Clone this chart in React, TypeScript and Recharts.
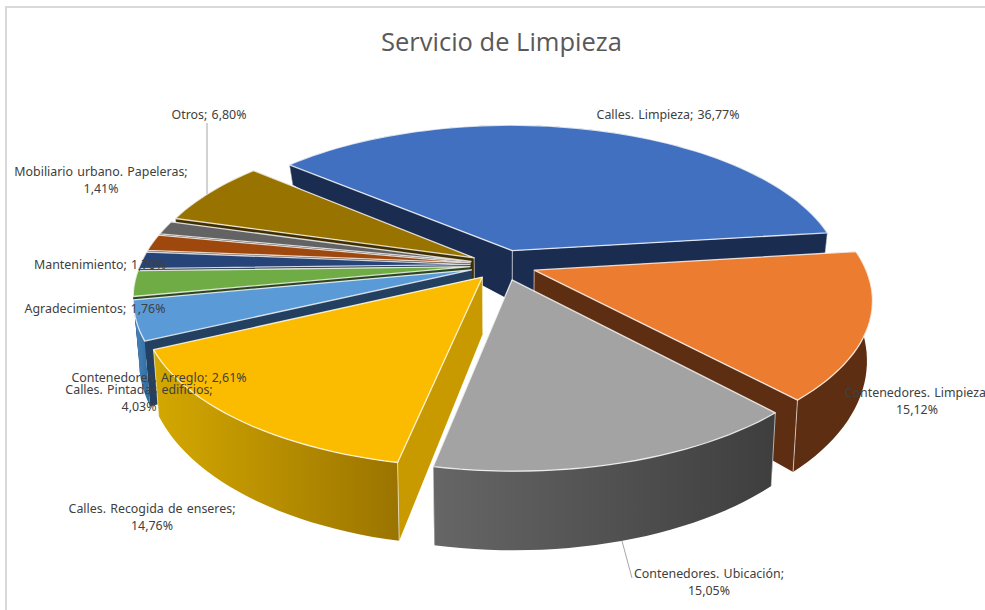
import React from 'react';
import { PieChart, Pie } from 'recharts';

const NAMES = [
  'Calles. Limpieza',
  'Contenedores. Limpieza',
  'Contenedores. Ubicación',
  'Calles. Recogida de enseres',
  'Calles. Pintadas edificios',
  'Contenedores. Arreglo',
  'Agradecimientos',
  'Mantenimiento',
  'Mobiliario urbano. Papeleras',
  'Otros',
];
const VALUES = [36.77, 15.12, 15.05, 14.76, 4.03, 2.61, 1.76, 1.7, 1.41, 6.8];

const TOP_COLORS = ['#4270c0', '#ec7c30', '#a3a3a3', '#fbbc00', '#5a9ad6', '#6fac46', '#264478', '#9e480e', '#636363', '#997300'];
const WALL_COLORS = ['#1a2c50', '#5e2e12', '#4a4a4a', '#c99a00', '#234060', '#2c451c', '#101e38', '#40200a', '#2a2a2a', '#3e2e00'];
// left/right stops of the gradient on the rim
const RIM_LEFT = ['#1a2c50', '#5e2e12', '#666666', '#d4a800', '#4a86bd', '#2c451c', '#101e38', '#40200a', '#2a2a2a', '#3e2e00'];
const RIM_RIGHT = ['#1a2c50', '#5e2e12', '#3e3e3e', '#9a7400', '#2f6a9f', '#2c451c', '#101e38', '#40200a', '#2a2a2a', '#3e2e00'];

// back to front
const DRAW_ORDER = [0, 9, 8, 7, 6, 5, 4, 1, 3, 2];

const data = NAMES.map((name, i) => ({ name, value: VALUES[i] }));

// where the data labels sit, since they were dragged by hand in the original
const LABEL_SPOTS: Record<string, { x: number; ys: number[]; split: boolean; line?: number[] }> = {
  'Calles. Limpieza': { x: 668, ys: [119], split: false },
  'Contenedores. Limpieza': { x: 917, ys: [397, 414], split: true },
  'Contenedores. Ubicación': { x: 709, ys: [578, 595], split: true, line: [622, 541, 632, 578] },
  'Calles. Recogida de enseres': { x: 152, ys: [513, 530], split: true },
  'Calles. Pintadas edificios': { x: 139, ys: [394, 411], split: true },
  'Contenedores. Arreglo': { x: 159, ys: [382], split: false },
  Agradecimientos: { x: 95, ys: [313], split: false },
  Mantenimiento: { x: 100, ys: [269], split: false },
  'Mobiliario urbano. Papeleras': { x: 101, ys: [176, 193], split: true },
  Otros: { x: 209, ys: [119], split: false, line: [207, 123, 207, 194] },
};

const TILT = 152;
const PERSP = 0.175;
const EXPLODE = 0.1;
const RAD = Math.PI / 180;

// plane point -> screen, with a bit of perspective
const project = (cx: number, cy: number, R: number, X: number, Y: number) => {
  const w = 1 - PERSP * Y;
  return { x: cx + (R * X) / w, y: cy + (TILT * Y) / w, Y };
};
const drop = (cx: number, p: { x: number; y: number; Y: number }) => {
  const depth = p.Y >= 0 ? 55 + 22 * p.Y : 55 + 47 * p.Y;
  return { x: cx + (p.x - cx) * 0.985, y: p.y + depth };
};
const toPath = (pts: { x: number; y: number }[]) =>
  'M' + pts.map((p) => `${p.x.toFixed(1)},${p.y.toFixed(1)}`).join('L') + 'Z';

const Slice3D = (props: any) => {
  const { cx, cy, outerRadius, startAngle, endAngle, name } = props;
  const i = NAMES.indexOf(name);
  const a = 90 - startAngle;
  const b = 90 - endAngle;
  const mid = ((a + b) / 2) * RAD;
  const ox = EXPLODE * Math.sin(mid);
  const oy = -EXPLODE * Math.cos(mid);
  const apex = project(cx, cy, outerRadius, ox, oy);
  const arc = [];
  const steps = Math.max(2, Math.ceil((b - a) / 2));
  for (let s = 0; s <= steps; s++) {
    const t = (a + ((b - a) * s) / steps) * RAD;
    arc.push(project(cx, cy, outerRadius, ox + Math.sin(t), oy - Math.cos(t)));
  }
  const arcDown = arc.map((p) => drop(cx, p));
  const apexDown = drop(cx, apex);
  const first = arc[0];
  const last = arc[arc.length - 1];
  const firstDown = arcDown[0];
  const lastDown = arcDown[arcDown.length - 1];
  const gradId = `rim-${i}`;
  const edge = { stroke: '#ffffff', strokeWidth: 1.3, strokeOpacity: 0.8, strokeLinejoin: 'round' as const };
  const big = b - a > 20;
  return (
    <g>
      <defs>
        <linearGradient id={gradId} x1="0" y1="0" x2="1" y2="0">
          <stop offset="0%" stopColor={RIM_LEFT[i]} />
          <stop offset="100%" stopColor={RIM_RIGHT[i]} />
        </linearGradient>
      </defs>
      <path d={toPath([apex, first, firstDown, apexDown])} fill={WALL_COLORS[i]} />
      <path d={toPath([apex, last, lastDown, apexDown])} fill={WALL_COLORS[i]} />
      <path d={toPath([...arc, ...[...arcDown].reverse()])} fill={`url(#${gradId})`} />
      {big && (
        <g stroke="#ffffff" strokeOpacity={0.6} strokeWidth={1}>
          <line x1={apex.x} y1={apex.y} x2={apexDown.x} y2={apexDown.y} />
          <line x1={first.x} y1={first.y} x2={firstDown.x} y2={firstDown.y} />
          <line x1={last.x} y1={last.y} x2={lastDown.x} y2={lastDown.y} />
        </g>
      )}
      <path d={toPath([apex, ...arc])} fill={TOP_COLORS[i]} {...edge} />
    </g>
  );
};

const DataLabel = (props: any) => {
  const spot = LABEL_SPOTS[props.name];
  const pct = `${props.value.toFixed(2).replace('.', ',')}%`;
  const lines = spot.split ? [`${props.name};`, pct] : [`${props.name}; ${pct}`];
  return (
    <g>
      {spot.line && (
        <line x1={spot.line[0]} y1={spot.line[1]} x2={spot.line[2]} y2={spot.line[3]} stroke="#a6a6a6" strokeWidth={1} />
      )}
      {lines.map((t, k) => (
        <text key={k} x={spot.x} y={spot.ys[k]} textAnchor="middle" fontFamily="'Noto Sans'" fontSize={12.4} wordSpacing={1} fill="#404040">
          {t}
        </text>
      ))}
    </g>
  );
};

export default function App() {
  return (
    <div style={{ position: 'absolute', left: 0, top: 0, width: 985, height: 610, overflow: 'hidden', background: '#fff' }}>
      <div style={{ position: 'absolute', left: 5, top: 6, width: 980, height: 604, borderLeft: '2px solid #d9d9d9', borderTop: '2px solid #d9d9d9' }} />
      <div style={{ position: 'absolute', left: 0, top: 24, width: 1003, textAlign: 'center', fontFamily: "'Open Sans'", fontSize: 25.5, color: '#595959' }}>
        Servicio de Limpieza
      </div>
      <PieChart width={985} height={610} margin={{ top: 0, right: 0, bottom: 0, left: 0 }} style={{ position: 'absolute', left: 0, top: 0 }}>
        {DRAW_ORDER.map((idx, layer) => (
          <Pie
            key={idx}
            data={data}
            dataKey="value"
            nameKey="name"
            cx={503}
            cy={265}
            outerRadius={330}
            startAngle={139.5}
            endAngle={-220.5}
            stroke="none"
            isAnimationActive={false}
            shape={(p: any) => (p.name === NAMES[idx] ? <Slice3D {...p} /> : <g />)}
            label={layer === DRAW_ORDER.length - 1 ? DataLabel : false}
            labelLine={false}
          />
        ))}
      </PieChart>
    </div>
  );
}
